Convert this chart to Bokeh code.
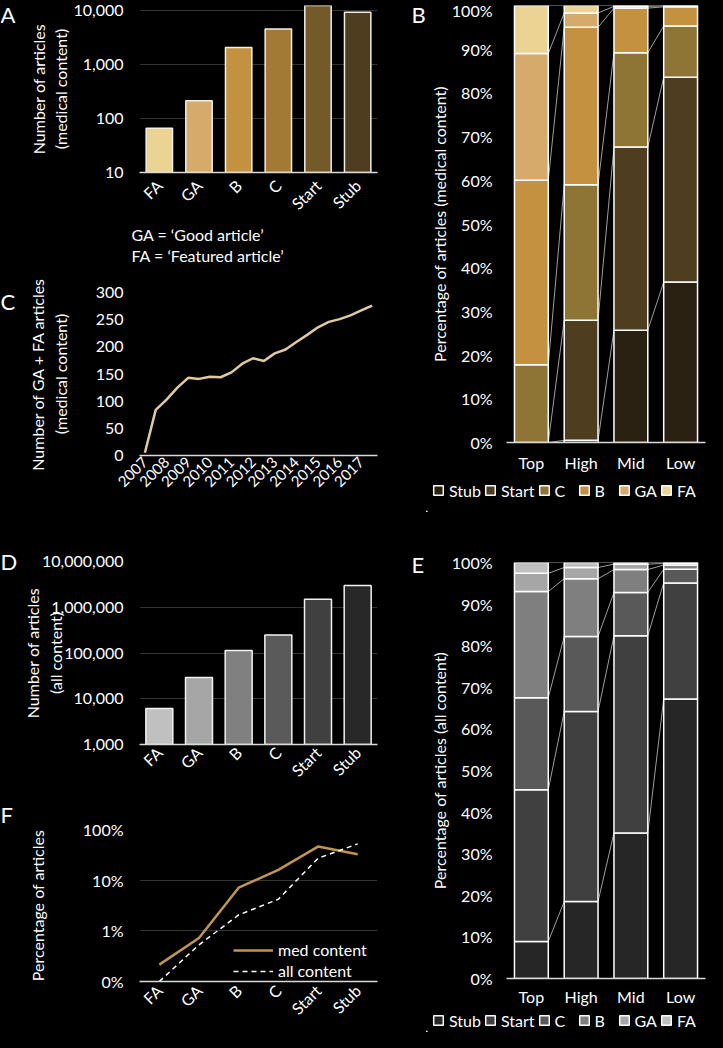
import math
import numpy as np
from bokeh.plotting import figure
from bokeh.layouts import row, column
from bokeh.models import (ColumnDataSource, FixedTicker, NumeralTickFormatter,
                          PrintfTickFormatter, Legend, LegendItem, Range1d, Title)
from bokeh.core.properties import value
from bokeh.embed import file_html
from bokeh.resources import INLINE

# ---------------- data ----------------
classes = ["FA", "GA", "B", "C", "Start", "Stub"]
med_counts = [66, 213, 2080, 4570, 13100, 9400]
all_counts = [6100, 29000, 114000, 248000, 1500000, 3000000]
med_count_ticks = [10, 100, 1000, 10000]
all_count_ticks = [1000, 10000, 100000, 1000000, 10000000]

half_years = [2007.0, 2007.5, 2008.0, 2008.5, 2009.0, 2009.5, 2010.0, 2010.5,
              2011.0, 2011.5, 2012.0, 2012.5, 2013.0, 2013.5, 2014.0, 2014.5,
              2015.0, 2015.5, 2016.0, 2016.5, 2017.0, 2017.5]
gafa_counts = [5, 84, 103, 125, 143, 141, 145, 144, 153, 169, 179, 174,
               188, 195, 209, 222, 236, 246, 251, 258, 267, 276]
year_ticks = [2007, 2008, 2009, 2010, 2011, 2012, 2013, 2014, 2015, 2016, 2017]
gafa_ticks = [0, 50, 100, 150, 200, 250, 300]

importance = ["Top", "High", "Mid", "Low"]
stack_classes = ["Stub", "Start", "C", "B", "GA", "FA"]
med_stub = [0.0, 0.5, 25.7, 36.7]
med_start = [0.0, 27.5, 41.9, 46.9]
med_c = [17.8, 31.0, 21.6, 11.7]
med_b = [42.2, 36.0, 10.2, 4.4]
med_ga = [29.0, 3.3, 0.4, 0.2]
med_fa = [11.0, 1.7, 0.2, 0.1]

all_stub = [8.9, 18.5, 35.0, 67.2]
all_start = [36.5, 45.7, 47.4, 27.9]
all_c = [22.1, 18.0, 10.4, 3.3]
all_b = [25.5, 13.9, 5.5, 1.0]
all_ga = [4.4, 2.7, 1.3, 0.4]
all_fa = [2.6, 1.2, 0.4, 0.2]
pct_ticks = [0, 10, 20, 30, 40, 50, 60, 70, 80, 90, 100]

med_share = [0.215, 0.72, 7.1, 16.0, 46.0, 32.6]   # percent
all_share = [0.1, 0.53, 2.06, 4.2, 27.0, 52.0]     # percent
share_ticks = [0.1, 1, 10, 100]

notes = ["GA = \u2018Good article\u2019", "FA = \u2018Featured article\u2019"]

# ---------------- style ----------------
FONT = "Lato"
BG = "#000000"
AXIS = "#d9d9d9"
GRID = "#333333"
med_bar_colors = ["#ebd393", "#d5aa6b", "#c3913f", "#a27a36", "#745a29", "#4e3d1f"]
all_bar_colors = ["#c0c0c0", "#a6a6a6", "#808080", "#5a5a5a", "#404040", "#282828"]
med_stack_colors = ["#2b2113", "#4e3d1f", "#8f7535", "#c3913f", "#d5aa6b", "#ebd393"]
all_stack_colors = ["#262626", "#404040", "#595959", "#7f7f7f", "#a6a6a6", "#bfbfbf"]

LW = 390           # left column width
RW = 281           # right column width
L_LEFT, L_RIGHT = 112, 33
R_LEFT, R_RIGHT = 76, 2


def make_fig(w, h, xr, yr, borders, y_log=False):
    l, r, t, b = borders
    p = figure(width=w, height=h, x_range=xr, y_range=yr,
               y_axis_type="log" if y_log else "linear",
               output_backend="svg", toolbar_location=None,
               min_border_left=l, min_border_right=r,
               min_border_top=t, min_border_bottom=b,
               background_fill_color=BG, border_fill_color=BG,
               outline_line_color=None)
    p.xgrid.visible = False
    p.ygrid.visible = False
    for ax in (p.xaxis[0], p.yaxis[0]):
        ax.major_label_text_color = "white"
        ax.major_label_text_font = FONT
        ax.major_label_text_font_size = "16px"
        ax.axis_label_text_color = "white"
        ax.axis_label_text_font = FONT
        ax.axis_label_text_font_size = "16px"
        ax.axis_label_text_font_style = "normal"
        ax.major_tick_line_color = None
        ax.minor_tick_line_color = None
        ax.major_tick_out = 0
        ax.major_tick_in = 0
        ax.minor_tick_out = 0
        ax.minor_tick_in = 0
    p.yaxis.axis_line_color = None
    p.xaxis.axis_line_color = AXIS
    p.xaxis.axis_line_width = 1.5
    return p


def strip(w, h):
    p = figure(width=w, height=h, x_range=Range1d(0, w), y_range=Range1d(0, h),
               output_backend="svg", toolbar_location=None, min_border=0,
               x_axis_location=None, y_axis_location=None,
               background_fill_color=BG, border_fill_color=BG, outline_line_color=None)
    p.xgrid.visible = False
    p.ygrid.visible = False
    return p


def cat_axis(p, labels, rotate=True, standoff=8):
    p.xaxis.ticker = FixedTicker(ticks=list(range(len(labels))))
    p.xaxis.major_label_overrides = {i: s for i, s in enumerate(labels)}
    if rotate:
        p.xaxis.major_label_orientation = math.pi / 4
    p.xaxis.major_label_standoff = standoff


def y_ticks(p, ticks, fmt, grid=True, standoff=16):
    t = FixedTicker(ticks=ticks)
    p.yaxis.ticker = t
    p.yaxis.formatter = fmt
    p.yaxis.major_label_standoff = standoff
    if grid:
        p.ygrid.visible = True
        p.ygrid.ticker = t
        p.ygrid.grid_line_color = GRID


# ---------------- letters (left / right strips) ----------------
left_letters = strip(20, 1032)
left_letters.text(x=[0, 0, 0, 0], y=[1032, 745, 485, 232], text=["A", "C", "D", "F"],
                  text_color="white", text_font=value(FONT), text_font_size="22px",
                  text_baseline="top", text_align="left")
right_letters = strip(16, 1032)
right_letters.text(x=[1, 1], y=[1032, 482], text=["B", "E"],
                   text_color="white", text_font=value(FONT), text_font_size="22px",
                   text_baseline="top", text_align="left")

# ---------------- A ----------------
pA = make_fig(LW, 264, Range1d(-0.5, 5.5), Range1d(10, 12500), (L_LEFT, L_RIGHT, 5, 91), y_log=True)
cat_axis(pA, classes, standoff=10)
y_ticks(pA, med_count_ticks, NumeralTickFormatter(format="0,0"))
pA.yaxis.axis_label = "Number of articles\n(medical content)"
pA.yaxis.axis_label_standoff = 0
pA.vbar(x=list(range(len(classes))), top=med_counts, bottom=med_count_ticks[0], width=0.665,
        fill_color=med_bar_colors, line_color="#f2efe6", line_width=1.5)
for note in notes:
    pA.add_layout(Title(text=note, align="left", offset=-8, standoff=0,
                        text_color="white", text_font=FONT, text_font_size="16px",
                        text_font_style="normal"), "below")

# ---------------- C ----------------
pC = make_fig(LW, 248, Range1d(2006.75, 2017.75), Range1d(0, 300), (L_LEFT, L_RIGHT, 28, 57))
pC.xaxis.ticker = FixedTicker(ticks=year_ticks)
pC.xaxis.major_label_orientation = math.pi / 4
pC.xaxis.major_label_text_font_size = "15px"
pC.xaxis.major_label_standoff = 4
y_ticks(pC, gafa_ticks, NumeralTickFormatter(format="0"), grid=False)
pC.yaxis.axis_label = "Number of GA + FA articles\n(medical content)"
pC.yaxis.axis_label_standoff = 23
pC.line(half_years, gafa_counts, line_color="#e2caa0", line_width=2.5)


# ---------------- stacked (B / E) ----------------
def stacked(p, vals, colors, title):
    src = ColumnDataSource(dict(x=list(range(len(importance))),
                                **{c: v for c, v in zip(stack_classes, vals)}))
    w = 0.68
    cum = np.cumsum(np.array(vals), axis=0)
    x0, y0, x1, y1 = [], [], [], []
    for k in range(cum.shape[0]):
        for i in range(cum.shape[1] - 1):
            x0.append(i + w / 2); y0.append(cum[k][i])
            x1.append(i + 1 - w / 2); y1.append(cum[k][i + 1])
    p.segment(x0=x0, y0=y0, x1=x1, y1=y1, line_color="#9e9e9e", line_width=1)
    p.vbar_stack(stack_classes, x="x", width=w, source=src, fill_color=colors,
                 line_color="white", line_width=1.5)
    cat_axis(p, importance, rotate=False, standoff=10)
    y_ticks(p, pct_ticks, PrintfTickFormatter(format="%d%%"), grid=False, standoff=14)
    p.yaxis.axis_label = title
    p.yaxis.axis_label_standoff = 0


def legend_strip(w, h, colors, loc):
    s = strip(w, h)
    items = []
    for name, c in zip(stack_classes, colors):
        # swatch renderer kept outside the visible range; only its legend swatch shows
        r = s.vbar(x=[-1000], top=[1], width=1, fill_color=c, line_color="white", line_width=1.5)
        items.append(LegendItem(label=name, renderers=[r]))
    leg = Legend(items=items, orientation="horizontal", location=loc,
                 background_fill_alpha=0, border_line_color=None,
                 label_text_color="white", label_text_font=FONT, label_text_font_size="16px",
                 glyph_width=12, glyph_height=12, label_standoff=5, spacing=3,
                 padding=0, margin=0, label_height=20)
    s.add_layout(leg)
    return row(s, spacing=0)


pB = make_fig(RW, 480, Range1d(-0.5, 3.5), Range1d(0, 100), (R_LEFT, R_RIGHT, 5, 38))
stacked(pB, [med_stub, med_start, med_c, med_b, med_ga, med_fa], med_stack_colors,
        "Percentage of articles (medical content)")
legB = legend_strip(RW, 32, med_stack_colors, (6, 12))

# ---------------- D ----------------
pD = make_fig(LW, 280, Range1d(-0.5, 5.5), Range1d(1000, 10000000), (L_LEFT, L_RIGHT, 49, 48), y_log=True)
cat_axis(pD, classes, standoff=5)
y_ticks(pD, all_count_ticks, NumeralTickFormatter(format="0,0"))
pD.yaxis.axis_label = "Number of articles\n(all content)"
pD.yaxis.axis_label_standoff = -26
pD.vbar(x=list(range(len(classes))), top=all_counts, bottom=all_count_ticks[0], width=0.68,
        fill_color=all_bar_colors, line_color="#f2f2f2", line_width=1.5)

# ---------------- F ----------------
pF = make_fig(LW, 240, Range1d(-0.5, 5.5), Range1d(0.1, 100), (L_LEFT, L_RIGHT, 37, 51), y_log=True)
cat_axis(pF, classes, standoff=6)
y_ticks(pF, share_ticks, PrintfTickFormatter(format="%d%%"))
pF.yaxis.major_label_overrides = {0.1: "0%"}
pF.yaxis.axis_label = "Percentage of articles"
pF.yaxis.axis_label_standoff = 33
xs = list(range(len(classes)))
r_med = pF.line(xs, med_share, line_color="#c0964f", line_width=2.5)
r_all = pF.line(xs, all_share, line_color="white", line_width=1.5, line_dash="5 4")
legF = Legend(items=[LegendItem(label="med content", renderers=[r_med]),
                     LegendItem(label="all content", renderers=[r_all])],
              location=(94, 0), background_fill_alpha=0, border_line_color=None,
              label_text_color="white", label_text_font=FONT, label_text_font_size="16px",
              glyph_width=40, label_standoff=5, spacing=0, padding=0, margin=0, label_height=21)
pF.add_layout(legF)

# ---------------- E ----------------
pE = make_fig(RW, 496, Range1d(-0.5, 3.5), Range1d(0, 100), (R_LEFT, R_RIGHT, 50, 28))
stacked(pE, [all_stub, all_start, all_c, all_b, all_ga, all_fa], all_stack_colors,
        "Percentage of articles (all content)")
pE.xaxis.major_label_standoff = 8
legE = legend_strip(RW, 24, all_stack_colors, (6, 2))

layout = row(
    left_letters,
    column(pA, pC, pD, pF, spacing=0),
    right_letters,
    column(pB, legB, pE, legE, spacing=0),
    spacing=0,
)

html = file_html(layout, INLINE)
html = html.replace("</head>", "<style>html, body { background-color: #000000; }</style></head>", 1)
open("out.html", "w").write(html)
